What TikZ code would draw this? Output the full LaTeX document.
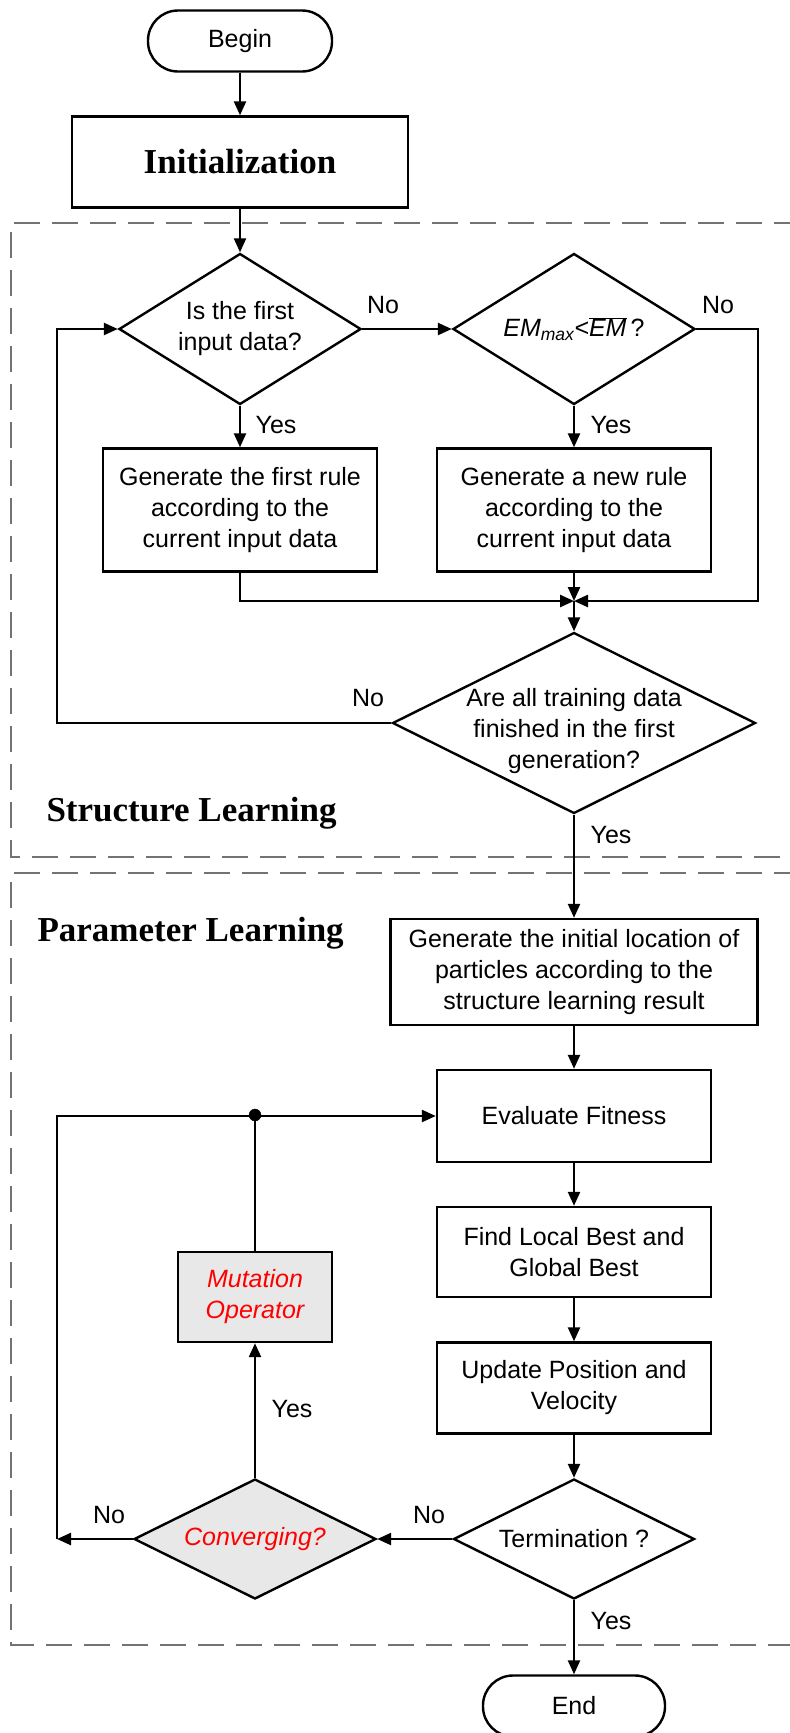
\documentclass[tikz,border=0pt]{standalone}
\usepackage{fontspec}
\usepackage{tikz}
\usetikzlibrary{arrows.meta, shapes.geometric}
\newfontfamily\nodefont{Liberation Sans}
\newfontfamily\headfont{Liberation Serif}

\begin{document}
\begin{tikzpicture}[x=1pt, y=-1pt,
        font=\nodefont\fontsize{25}{31}\selectfont,
        flow/.style={line width=2.4pt, -{Triangle[length=14pt,width=12pt]}},
        wire/.style={line width=2.4pt},
        box/.style={draw, line width=2.4pt, rectangle, inner sep=0pt, align=center},
        terminal/.style={draw, line width=2.4pt, rounded corners=30pt, minimum width=184pt, minimum height=61pt},
        decision/.style={draw, line width=2.4pt, diamond, inner sep=0pt},
        region/.style={draw=black!55, line width=2.2pt, dash pattern=on 26pt off 12pt},
        heading/.style={font=\headfont\bfseries\fontsize{35}{40}\selectfont},
        shaded/.style={fill=black!9},
        alert/.style={text=red, font=\nodefont\itshape\fontsize{25}{31}\selectfont}
    ]
        \useasboundingbox (0,0) rectangle (790,1733);

        \draw[region] (800,223) -- (11,223) -- (11,857) -- (800,857);
        \draw[region] (800,873) -- (11,873) -- (11,1645) -- (800,1645);

        \node[heading, anchor=west] (slearn) at (43,813) {Structure Learning};
        \node[heading, anchor=west] (plearn) at (34,933) {Parameter Learning};

        \node[terminal] (begin) at (240,41) {Begin};
        \node[box, heading, minimum width=336pt, minimum height=91pt] (init) at (240,162) {Initialization};

        \node[decision, minimum width=242pt, minimum height=151pt,
            label={[align=center]center:Is the first\\input data?}] (first) at (240,329) {};
        \node[decision, minimum width=242pt, minimum height=151pt,
            label={center:{\itshape EM\textsubscript{max}<}$\overline{\mbox{\itshape EM}}$\,?}] (check) at (574,329) {};
        \node[box, minimum width=274pt, minimum height=123pt] (rule1) at (240,510) {Generate the first rule\\according to the\\current input data};
        \node[box, minimum width=274pt, minimum height=123pt] (rule2) at (574,510) {Generate a new rule\\according to the\\current input data};
        \node[decision, minimum width=363pt, minimum height=181pt,
            label={[align=center, yshift=-8pt]center:Are all training data\\finished in the first\\generation?}] (done) at (574,723) {};

        \node[box, minimum width=367pt, minimum height=106pt] (locate) at (574,972) {Generate the initial location of\\particles according to the\\structure learning result};
        \node[box, minimum width=274pt, minimum height=92pt] (eval) at (574,1116) {Evaluate Fitness};
        \node[box, minimum width=274pt, minimum height=90pt] (find) at (574,1252) {Find Local Best and\\Global Best};
        \node[box, minimum width=274pt, minimum height=91pt] (update) at (574,1388) {Update Position and\\Velocity};
        \node[decision, minimum width=241pt, minimum height=120pt,
            label={center:Termination ?}] (term) at (574,1539) {};
        \node[decision, shaded, minimum width=242pt, minimum height=120pt,
            label={[alert]center:Converging?}] (conv) at (255,1539) {};
        \node[box, shaded, alert, align=center, minimum width=154pt, minimum height=90pt] (mut) at (255,1297) {Mutation\\Operator};
        \node[terminal, minimum width=182pt] (end) at (574,1706) {End};

        \coordinate (merge) at (574,601);
        \coordinate (rside) at (758,601);
        \coordinate (lside) at (57,723);
        \coordinate (back) at (57,1539);
        \coordinate (joint) at (255,1115);

        \draw[flow] (begin) -- (init);
        \draw[flow] (init) -- (first);
        \draw[flow] (first.east) -- (check.west);
        \draw[flow] (first.south) -- (rule1.north);
        \draw[flow] (check.south) -- (rule2.north);
        \draw[flow] (check.east) -| (rside) -- (merge);
        \draw[flow] (rule1.south) |- (merge);
        \draw[flow] (rule2.south) -- (merge);
        \draw[flow] (merge) -- (done.north);
        \draw[flow] (done.west) -- (lside) |- (first.west);
        \draw[flow] (done.south) -- (locate.north);
        \draw[flow] (locate) -- (eval);
        \draw[flow] (eval) -- (find);
        \draw[flow] (find) -- (update);
        \draw[flow] (update) -- (term);
        \draw[flow] (term.west) -- (conv.east);
        \draw[flow] (term.south) -- (end.north);
        \draw[flow] (conv.north) -- (mut.south);
        \draw[flow] (conv.west) -- (back);
        \draw[flow] (back) |- (eval.west);
        \draw[wire] (mut.north) -- (joint);
        \filldraw[black] (joint) circle (6pt);

        \node (no1) at (383,305) {No};
        \node (no2) at (718,305) {No};
        \node (yes1) at (276,425) {Yes};
        \node (yes2) at (611,425) {Yes};
        \node (no3) at (368,698) {No};
        \node (yes3) at (611,835) {Yes};
        \node (yes4) at (292,1409) {Yes};
        \node (no4) at (429,1515) {No};
        \node (no5) at (109,1515) {No};
        \node (yes5) at (611,1621) {Yes};
    \end{tikzpicture}
\end{document}
